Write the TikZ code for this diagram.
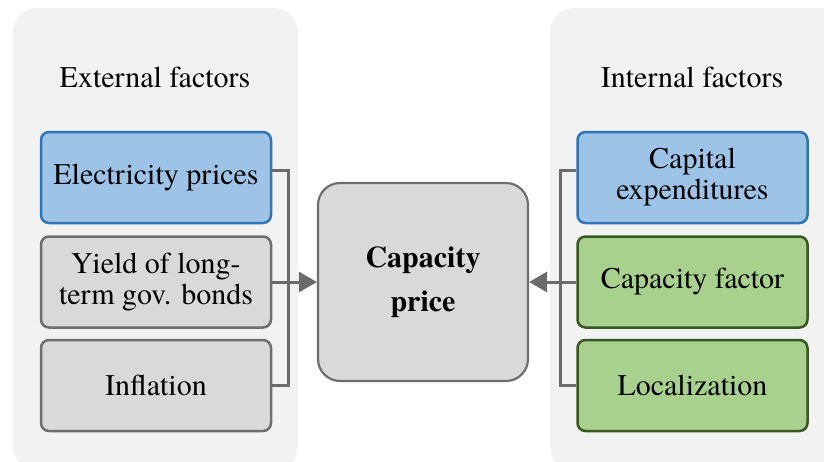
\documentclass[tikz,border=0pt]{standalone}
\usepackage{fontspec}
\setmainfont{TeX Gyre Termes}
\usetikzlibrary{arrows.meta}
\definecolor{panelbg}{HTML}{F2F2F2}
\definecolor{bluefill}{HTML}{9DC3E6}
\definecolor{blueline}{HTML}{2E75B6}
\definecolor{grayfill}{HTML}{D9D9D9}
\definecolor{grayline}{HTML}{6E6E6E}
\definecolor{greenfill}{HTML}{A9D18E}
\definecolor{greenline}{HTML}{385723}
\definecolor{connline}{HTML}{6B6B6B}
\tikzset{
  panel/.style={fill=panelbg, draw=none, rounded corners=12pt},
  title/.style={font=\fontsize{15}{16}\selectfont},
  factor/.style={rounded corners=4pt, line width=1.25pt, minimum width=115pt,
    minimum height=45.5pt, align=center, inner sep=2pt,
    font=\fontsize{15}{15.5}\selectfont},
  bluebox/.style={factor, fill=bluefill, draw=blueline},
  graybox/.style={factor, fill=grayfill, draw=grayline},
  greenbox/.style={factor, fill=greenfill, draw=greenline},
  centerbox/.style={rounded corners=11pt, line width=1.1pt, fill=grayfill,
    draw=grayline, minimum width=105pt, minimum height=99pt, align=center,
    font=\fontsize{15}{22}\selectfont\bfseries},
  conn/.style={draw=connline, line width=1.5pt},
  arrowconn/.style={conn, -{Triangle[length=9pt,width=10pt]}}
}
\begin{document}
\begin{tikzpicture}[x=0.5pt, y=-0.5pt]
\useasboundingbox (0,0) rectangle (824,461);
\clip (0,0) rectangle (824,461);

% background panels
\fill[panel] (13,8) rectangle (298,470);
\fill[panel] (550,8) rectangle (860,470);

% panel titles
\node[title] (ext) at (155,77) {External factors};
\node[title] (int) at (692,77) {Internal factors};

% external factors
\node[bluebox] (e1) at (156,177.5) {Electricity prices};
\node[graybox] (e2) at (156,282) {Yield of long-\\term gov. bonds};
\node[graybox] (e3) at (156,385.5) {Inflation};

% internal factors
\node[bluebox]  (i1) at (692.5,177.5) {Capital\\expenditures};
\node[greenbox] (i2) at (692.5,282) {Capacity factor};
\node[greenbox] (i3) at (692.5,385.5) {Localization};

% result
\node[centerbox] (cap) at (423,282) {Capacity\\price};

% bar positions of the brackets
\coordinate (lbar) at (288,0);
\coordinate (rbar) at (560,0);

% left bracket and arrow
\draw[conn] ([yshift=3.5pt]e1.east) -| (lbar |- e3.east) -- (e3.east);
\draw[arrowconn] (e2.east) -- (cap.west);

% right bracket and arrow
\draw[conn] ([yshift=3.5pt]i1.west) -| (rbar |- i3.west) -- (i3.west);
\draw[arrowconn] (i2.west) -- (cap.east);
\end{tikzpicture}
\end{document}
